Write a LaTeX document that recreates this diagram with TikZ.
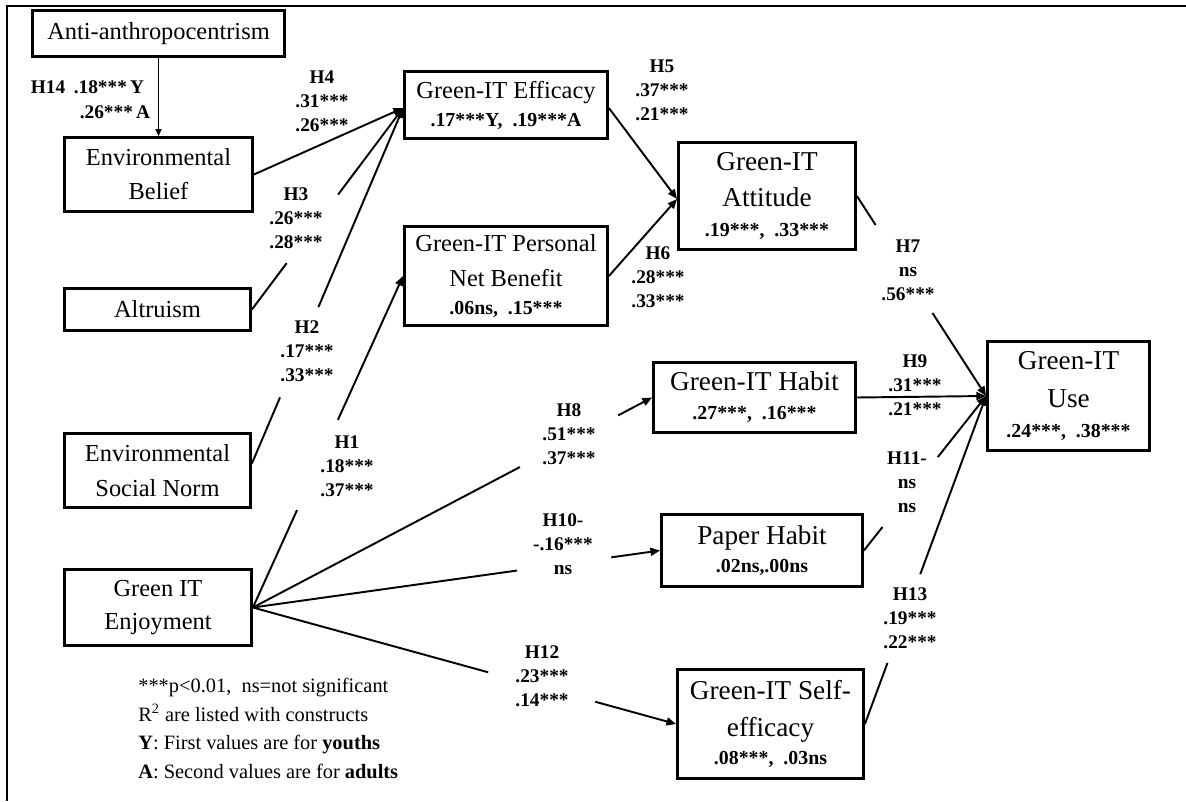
\documentclass[tikz,border=0pt]{standalone}
\usepackage{fontspec}
\setmainfont{Liberation Serif}
\usetikzlibrary{arrows.meta,calc}
\newcommand{\bxfont}{\fontsize{13.9}{19}\selectfont}
\newcommand{\bigbxfont}{\fontsize{15.5}{20.5}\selectfont}
\newcommand{\hypfont}{\fontsize{11}{13.6}\selectfont\bfseries}
\newcommand{\rsqfont}{\fontsize{11.3}{13}\selectfont\bfseries}
\newcommand{\notefont}{\fontsize{11.6}{16.2}\selectfont}

\begin{document}
\begin{tikzpicture}[x=0.02cm,y=-0.02cm,>={Triangle[length=5.5pt,width=4.5pt]},
  construct/.style={draw,line width=1.6pt,font=\bxfont,align=center,inner sep=0pt},
  bigconstruct/.style={construct,font=\bigbxfont},
  boxsize/.style 2 args={minimum width=#1*0.02cm,minimum height=#2*0.02cm},
  hyp/.style={font=\hypfont,align=center,inner sep=0pt},
  link/.style={line width=1.1pt}]
  \useasboundingbox (0,0) rectangle (1186,801);
  \draw[line width=1.4pt] (1186,6) -- (7,6) -- (7,801);

  \node[construct,boxsize={252}{46}] (anti) at (158.5,33.5) {Anti-anthropocentrism};
  \node[construct,boxsize={188}{74}] (belief) at (158.5,174.5) {Environmental\\[0.5pt]Belief};
  \node[construct,boxsize={186}{42}] (altru) at (157.5,309.5) {Altruism};
  \node[construct,boxsize={186}{74}] (norm) at (157.5,470.5) {Environmental\\[1pt]Social Norm};
  \node[construct,boxsize={187}{76}] (enjoy) at (158,607.5) {Green IT\\Enjoyment};
  \node[construct,boxsize={203}{67}] (effic) at (506,105) {Green-IT Efficacy\\[-3pt]{\rsqfont .17***Y,\ \ .19***A}};
  \node[construct,boxsize={203}{99}] (benefit) at (506,276) {Green-IT Personal\\[0.5pt]Net Benefit\\[-3pt]{\rsqfont .06ns,\ \ .15***}};
  \node[bigconstruct,boxsize={177}{107}] (attit) at (767,196) {Green-IT\\Attitude\\[-3.5pt]{\rsqfont .19***,\ \ .33***}};
  \node[bigconstruct,boxsize={162}{109}] (use) at (1068.5,396) {Green-IT\\[1pt]Use\\[-3.5pt]{\rsqfont .24***,\ \ .38***}};
  \node[bigconstruct,boxsize={202}{70}] (habit) at (754.5,397.5) {Green-IT Habit\\[-4pt]{\rsqfont .27***,\ \ .16***}};
  \node[bigconstruct,boxsize={201}{72}] (paper) at (762,550.5) {Paper Habit\\[-5pt]{\rsqfont .02ns,.00ns}};
  \node[bigconstruct,boxsize={186}{109}] (selfeff) at (770.5,724) {Green-IT Self-\\[0.5pt]efficacy\\[-4.5pt]{\rsqfont .08***,\ \ .03ns}};

  \coordinate (efficin) at ($(effic.west)+(0,3)$);
  \coordinate (efficout) at ($(effic.east)+(0,3)$);
  \coordinate (attitin) at ($(attit.west)+(0,3)$);
  \coordinate (normout) at ($(norm.east)+(0,-7)$);

  \draw[->,line width=0.6pt,>={Triangle[length=4pt,width=3.5pt]}] (anti) -- (belief);
  \draw[link,->] (belief.east) -- (efficin);
  \draw[link,->] (efficout) -- (attitin);
  \draw[link,->] (benefit.east) -- (attitin);
  \draw[link,->] (habit.east) -- (use.west);
  \foreach \a/\b/\ta/\tb in {altru.east/efficin/.23/.57, normout/efficin/.186/.44,
    enjoy.east/benefit.west/.294/.566, enjoy.east/habit.west/.669/.915,
    enjoy.east/paper.west/.649/.88, enjoy.east/selfeff.west/.556/.809,
    attit.east/use.west/.145/.585, paper.east/use.west/.152/.605,
    selfeff.east/use.west/.186/.457}{
    \path (\a) -- (\b) coordinate[pos=\ta] (g1) coordinate[pos=\tb] (g2);
    \draw[link] (\a) -- (g1);
    \draw[link,->] (g2) -- (\b);
  }

  \node[hyp] (h14) at (48,87) {H14};
  \node[hyp] (h14y) at (109,87) {.18***\,Y};
  \node[hyp] (h14a) at (115,112) {.26***\,A};
  \node[hyp] (h4) at (322,101) {H4\\.31***\\.26***};
  \node[hyp] (h3) at (296,218) {H3\\.26***\\.28***};
  \node[hyp] (h2) at (307,351) {H2\\.17***\\.33***};
  \node[hyp] (h1) at (347,466) {H1\\.18***\\.37***};
  \node[hyp] (h5) at (662,90) {H5\\.37***\\.21***};
  \node[hyp] (h6) at (658,277) {H6\\.28***\\.33***};
  \node[hyp] (h7) at (908,270) {H7\\ns\\.56***};
  \node[hyp] (h9) at (915,385) {H9\\.31***\\.21***};
  \node[hyp] (h8) at (569,434) {H8\\.51***\\.37***};
  \node[hyp] (h10) at (563,544) {H10-\\-.16***\\ns};
  \node[hyp] (h11) at (907,482) {H11-\\ns\\ns};
  \node[hyp] (h13) at (910,618) {H13\\.19***\\.22***};
  \node[hyp] (h12) at (542,676) {H12\\.23***\\.14***};

  \node[font=\notefont,align=left,anchor=north west,inner sep=0pt] (note) at (138,678)
    {***p<0.01,\ \ ns=not significant\\R\textsuperscript{2} are listed with constructs\\
     \textbf{Y}: First values are for \textbf{youths}\\\textbf{A}: Second values are for \textbf{adults}};
\end{tikzpicture}
\end{document}
